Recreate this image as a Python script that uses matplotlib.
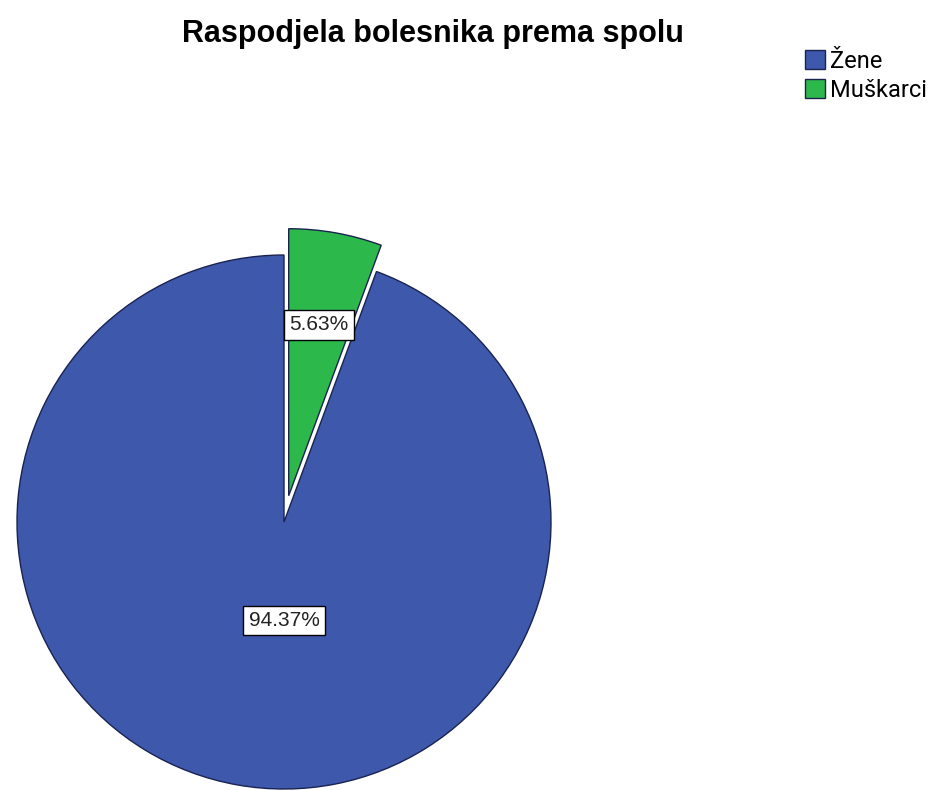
import matplotlib.pyplot as plt
import numpy as np

kategorije = ['Žene', 'Muškarci']
postotci = [94.37, 5.63]
boje = ['#3E58AC', '#2DB84B']
izdvoji = [0.0, 0.1]
# udaljenost i kut (stupnjevi) oznaka postotaka; None = simetrala isječka
udaljenost_oznake = [0.37, 0.65]
kut_oznake = [270, None]

plt.rcParams['font.family'] = ['Liberation Sans', 'DejaVu Sans']

fig = plt.figure(figsize=(9.46, 7.9), dpi=100)
ax = fig.add_axes([17 / 946, 1 / 790, 534 / 946, 534 / 790])

wedges, texts, autotexts = ax.pie(
    postotci, colors=boje, explode=izdvoji, startangle=90, counterclock=True,
    autopct='%.2f%%', wedgeprops=dict(edgecolor='#1a2350', linewidth=1.0),
    textprops=dict(fontsize=15, color='#222222'))

for w, t, d, k, e in zip(wedges, autotexts, udaljenost_oznake, kut_oznake, izdvoji):
    kut = np.deg2rad((w.theta1 + w.theta2) / 2)
    cx, cy = e * np.cos(kut), e * np.sin(kut)
    if k is not None:
        kut = np.deg2rad(k)
    t.set_position((cx + d * np.cos(kut), cy + d * np.sin(kut)))
    t.set_bbox(dict(boxstyle='square,pad=0.25', fc='white', ec='black', lw=1))
    w.set_clip_on(False)

ax.set_xlim(-1, 1)
ax.set_ylim(-1, 1)
ax.axis('off')

fig.text(433 / 946, 1 - 34 / 790, 'Raspodjela bolesnika prema spolu',
         ha='center', va='center', fontsize=22, fontweight='bold')

fig.legend(wedges, kategorije, loc='upper left', bbox_to_anchor=(805 / 946, 1 - 50 / 790),
           frameon=False, handlelength=0.85, handleheight=0.85,
           handletextpad=0.2, labelspacing=0.25, borderpad=0, borderaxespad=0,
           prop={'family': ['Roboto', 'DejaVu Sans'], 'size': 17})

fig.savefig('out.png', dpi=100)
